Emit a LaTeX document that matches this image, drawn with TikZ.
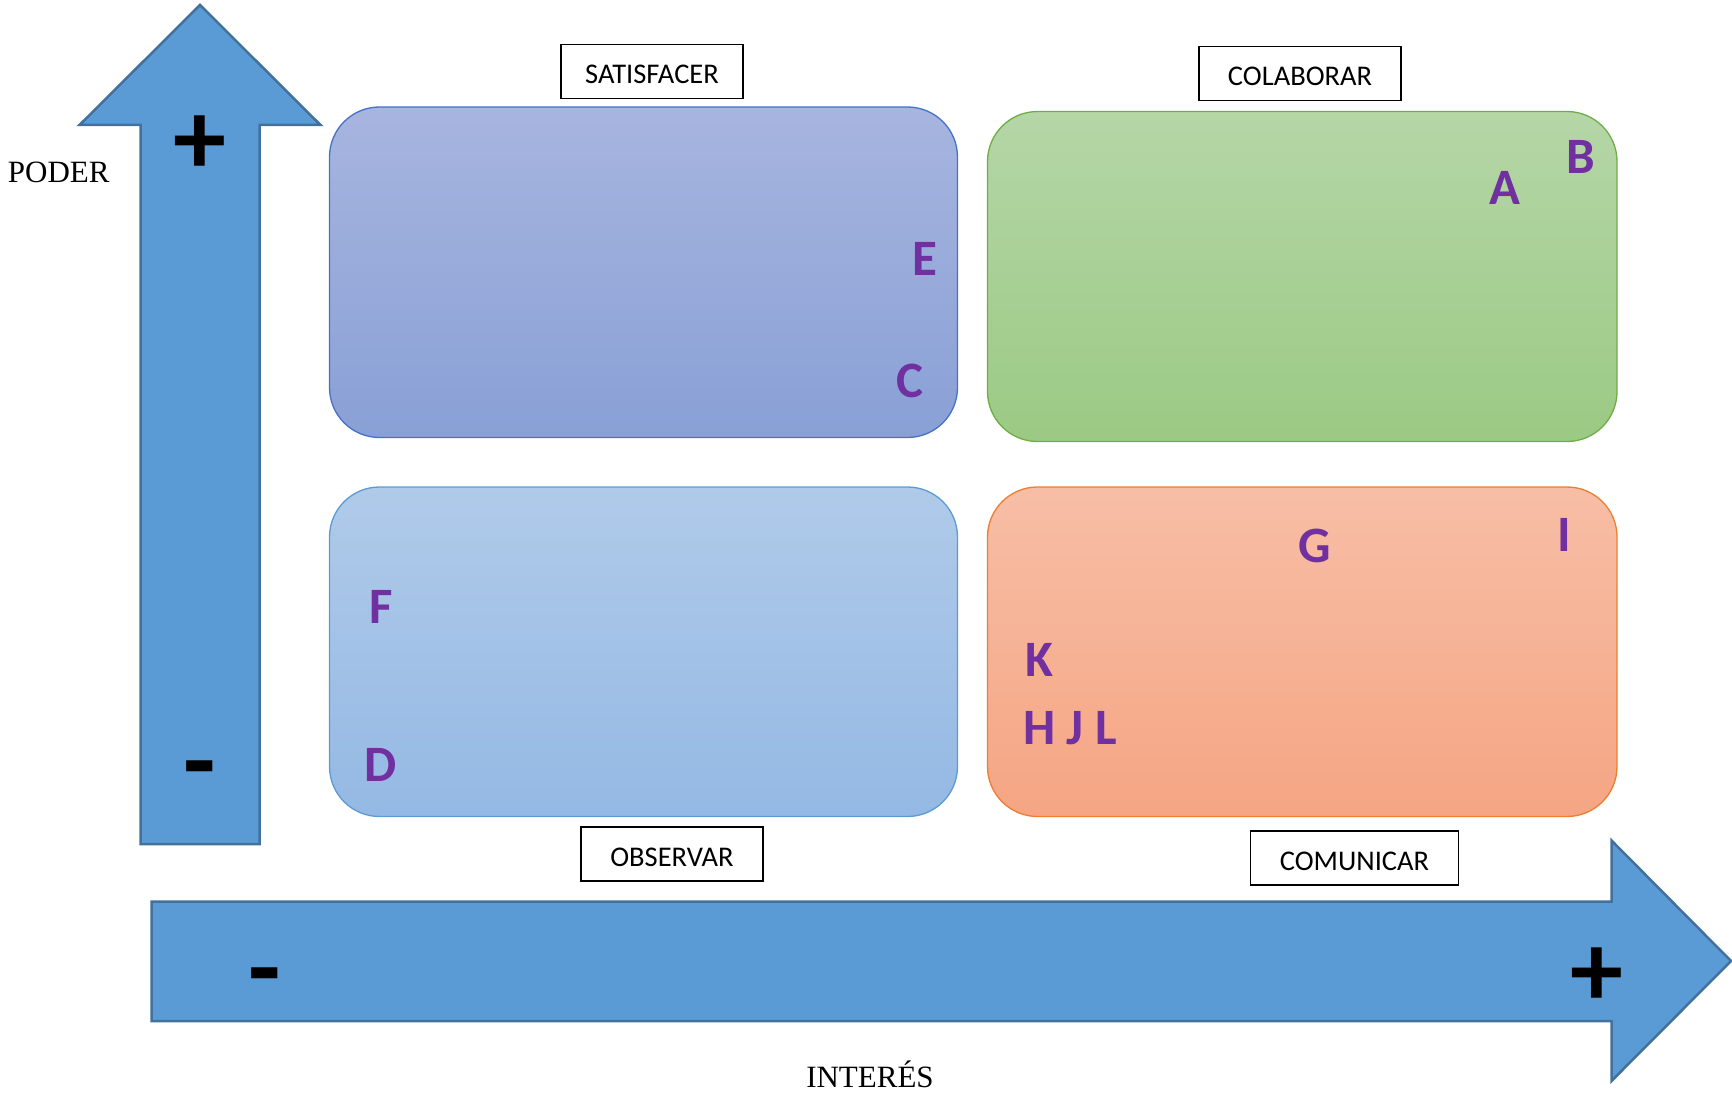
\documentclass[tikz,border=0pt]{standalone}
\usepackage{fontspec}
\newfontfamily\calfont{Carlito}
\newfontfamily\timesfont{Liberation Serif}
\definecolor{arrowfill}{HTML}{5B9BD5}
\definecolor{arrowline}{HTML}{41719C}
\definecolor{letterpurple}{HTML}{7030A0}
\definecolor{satLine}{HTML}{4472C4}
\definecolor{satTop}{HTML}{A7B5DF}
\definecolor{satBot}{HTML}{89A0D6}
\definecolor{colLine}{HTML}{70AD47}
\definecolor{colTop}{HTML}{B5D6A7}
\definecolor{colBot}{HTML}{9BCA84}
\definecolor{obsLine}{HTML}{5B9BD5}
\definecolor{obsTop}{HTML}{B0CAE9}
\definecolor{obsBot}{HTML}{94B9E4}
\definecolor{comLine}{HTML}{ED7D31}
\definecolor{comTop}{HTML}{F7BEA6}
\definecolor{comBot}{HTML}{F5A583}
\begin{document}
\begin{tikzpicture}[x=1pt,y=-1pt,
  axisarrow/.style={fill=arrowfill,draw=arrowline,line width=2.5pt,line join=miter},
  quadrant/.style={rounded corners=50pt,line width=1.3pt},
  tagbox/.style={draw=black,line width=1.6pt,fill=white,inner sep=0pt,
    minimum height=54pt,text height=24pt,text depth=0pt,
    font=\calfont\fontsize{28.5}{30}\selectfont},
  stakeholder/.style={inner sep=0pt,text=letterpurple,
    font=\calfont\bfseries\fontsize{51}{51}\selectfont},
  sign/.style={inner sep=0pt,font=\calfont\bfseries\fontsize{106}{106}\selectfont},
  axisname/.style={inner sep=0pt,font=\timesfont\fontsize{31}{31}\selectfont}]
\useasboundingbox (0,0) rectangle (1732,1094);

% power axis (vertical arrow)
\draw[axisarrow] (200,5) -- (320.5,125) -- (259.5,125) -- (259.5,844)
  -- (140.5,844) -- (140.5,125) -- (79.5,125) -- cycle;
% interest axis (horizontal arrow)
\draw[axisarrow] (151.5,901.5) -- (1611.5,901.5) -- (1611.5,840.5) -- (1731,961)
  -- (1611.5,1081) -- (1611.5,1021) -- (151.5,1021) -- cycle;

% quadrants
\path[quadrant,draw=satLine,top color=satTop,bottom color=satBot]
  (329.5,107) rectangle (957.5,437.5);
\path[quadrant,draw=colLine,top color=colTop,bottom color=colBot]
  (987.5,111.5) rectangle (1617,441.5);
\path[quadrant,draw=obsLine,top color=obsTop,bottom color=obsBot]
  (329.5,487) rectangle (957.5,816.5);
\path[quadrant,draw=comLine,top color=comTop,bottom color=comBot]
  (987.5,487) rectangle (1617,816.5);

% strategy labels
\node[tagbox,minimum width=182pt] (satisfacer) at (652,71.7) {SATISFACER};
\node[tagbox,minimum width=202pt] (colaborar) at (1300,73.5) {COLABORAR};
\node[tagbox,minimum width=182pt] (observar) at (672,854) {OBSERVAR};
\node[tagbox,minimum width=208pt] (comunicar) at (1354.5,858) {COMUNICAR};

% axis signs
\node[sign] (podermas) at (200,145.5) {+};
\node[sign] (podermenos) at (200,779) {-};
\node[sign] (intmenos) at (265,986) {-};
\node[sign] (intmas) at (1597,977.5) {+};

% axis names
\node[axisname,anchor=base] (poder) at (58.7,183) {PODER};
\node[axisname,anchor=base] (interes) at (870,1087) {INTERÉS};

% stakeholders
\node[stakeholder] (e) at (925,259) {E};
\node[stakeholder] (c) at (910,381) {C};
\node[stakeholder] (a) at (1504.5,188) {A};
\node[stakeholder] (b) at (1580.5,157) {B};
\node[stakeholder] (f) at (381,607) {F};
\node[stakeholder] (d) at (381,765) {D};
\node[stakeholder] (g) at (1315,546) {G};
\node[stakeholder] (i) at (1564.5,535) {I};
\node[stakeholder] (k) at (1039.5,660) {K};
\node[stakeholder] (hjl) at (1070,728) {H J L};
\end{tikzpicture}
\end{document}
